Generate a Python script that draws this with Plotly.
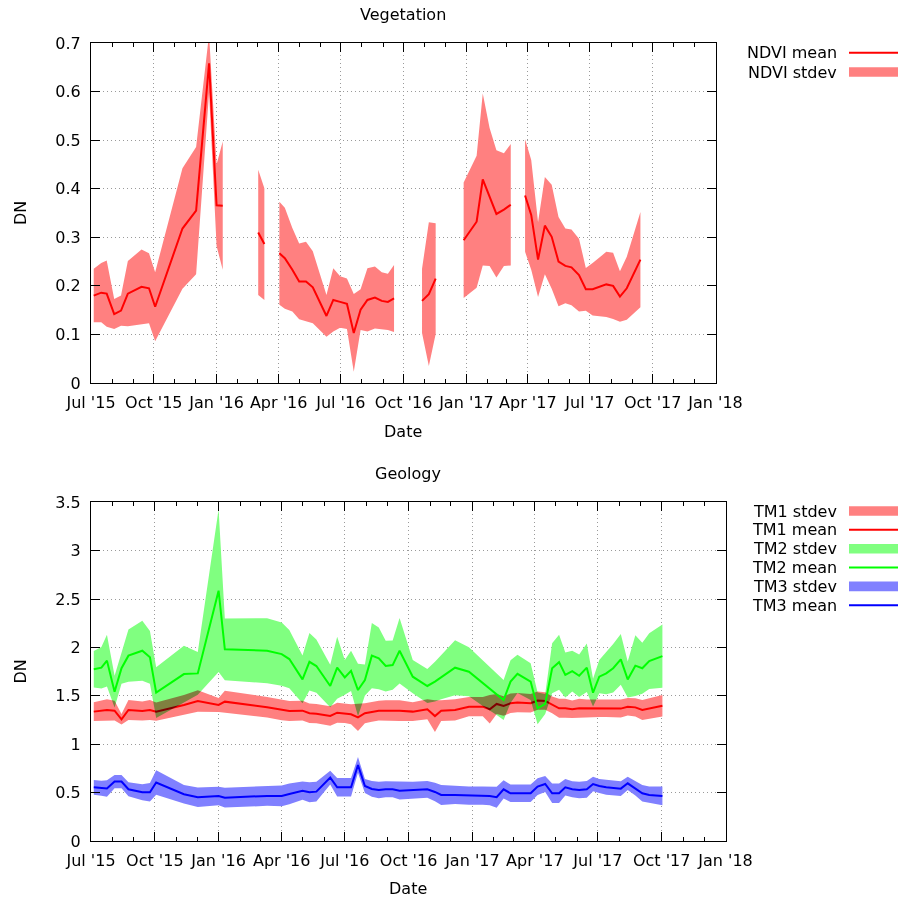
import plotly.graph_objects as go

# ---------------- Vegetation (NDVI) ----------------
# None rows = missing observations (gaps in the series)
ndvi_dates = [
    "2015-07-05", "2015-07-16", "2015-07-24", "2015-08-04", "2015-08-14", "2015-08-24",
    "2015-09-13", "2015-09-24", "2015-10-03", "2015-11-12", "2015-12-02", "2015-12-21",
    "2016-01-01", "2016-01-10", None,
    "2016-03-02", "2016-03-11", None,
    "2016-04-02", "2016-04-10", "2016-04-21", "2016-05-01", "2016-05-11", "2016-05-21",
    "2016-06-10", "2016-06-20", "2016-06-30", "2016-07-10", "2016-07-20", "2016-07-30",
    "2016-08-09", "2016-08-20", "2016-08-30", "2016-09-08", "2016-09-17", None,
    "2016-10-28", "2016-11-07", "2016-11-17", None,
    "2016-12-28", "2017-01-16", "2017-01-25", "2017-02-04", "2017-02-14", "2017-02-25",
    "2017-03-07", None,
    "2017-03-28", "2017-04-06", "2017-04-16", "2017-04-26", "2017-05-06", "2017-05-16",
    "2017-05-26", "2017-06-04", "2017-06-15", "2017-06-25", "2017-07-05", "2017-07-25",
    "2017-08-04", "2017-08-14", "2017-08-24", "2017-09-13",
]
ndvi_mean = [
    0.180, 0.186, 0.184, 0.142, 0.149, 0.184,
    0.198, 0.195, 0.157, 0.318, 0.355, 0.658,
    0.366, 0.365, None,
    0.310, 0.286, None,
    0.267, 0.257, 0.233, 0.209, 0.209, 0.197,
    0.138, 0.171, 0.167, 0.163, 0.103, 0.151,
    0.171, 0.176, 0.169, 0.167, 0.174, None,
    0.169, 0.183, 0.215, None,
    0.294, 0.332, 0.419, 0.383, 0.348, 0.357,
    0.367, None,
    0.386, 0.346, 0.254, 0.324, 0.301, 0.250,
    0.241, 0.238, 0.222, 0.193, 0.193, 0.203,
    0.200, 0.178, 0.195, 0.254,
]
ndvi_std = [
    0.055, 0.061, 0.068, 0.031, 0.031, 0.067,
    0.077, 0.072, 0.071, 0.124, 0.131, 0.060,
    0.084, 0.132, None,
    0.129, 0.115, None,
    0.106, 0.104, 0.086, 0.078, 0.082, 0.074,
    0.043, 0.065, 0.053, 0.052, 0.080, 0.042,
    0.065, 0.064, 0.059, 0.058, 0.069, None,
    0.066, 0.148, 0.114, None,
    0.119, 0.136, 0.177, 0.142, 0.131, 0.116,
    0.125, None,
    0.116, 0.113, 0.077, 0.100, 0.107, 0.092,
    0.077, 0.078, 0.075, 0.044, 0.054, 0.067,
    0.068, 0.052, 0.065, 0.098,
]

# ---------------- Geology (TM1, TM2, TM3) ----------------
geo_dates = [
    "2015-07-05", "2015-07-16", "2015-07-24", "2015-08-04", "2015-08-14", "2015-08-24",
    "2015-09-13", "2015-09-24", "2015-10-03", "2015-11-12", "2015-12-02", "2016-01-01",
    "2016-01-10", "2016-03-11", "2016-04-01", "2016-04-12", "2016-05-01", "2016-05-11",
    "2016-05-21", "2016-06-10", "2016-06-20", "2016-07-01", "2016-07-10", "2016-07-20",
    "2016-07-30", "2016-08-09", "2016-08-19", "2016-08-29", "2016-09-08", "2016-09-18",
    "2016-10-07", "2016-10-28", "2016-11-08", "2016-11-17", "2016-12-07", "2016-12-27",
    "2017-01-16", "2017-01-26", "2017-02-05", "2017-02-15", "2017-02-25", "2017-03-07",
    "2017-03-26", "2017-04-05", "2017-04-16", "2017-04-26", "2017-05-06", "2017-05-15",
    "2017-05-25", "2017-06-04", "2017-06-15", "2017-06-24", "2017-07-03", "2017-07-13",
    "2017-07-23", "2017-08-03", "2017-08-13", "2017-08-24", "2017-09-03", "2017-09-13",
    "2017-10-02",
]
tm1_mean = [
    1.337, 1.344, 1.354, 1.347, 1.258, 1.354, 1.344, 1.354, 1.337, 1.406, 1.447, 1.406,
    1.440, 1.382, 1.354, 1.344, 1.347, 1.320, 1.316, 1.292, 1.326, 1.320, 1.309, 1.278,
    1.320, 1.334, 1.347, 1.347, 1.347, 1.347, 1.337, 1.361, 1.291, 1.347, 1.354, 1.388,
    1.388, 1.361, 1.416, 1.395, 1.423, 1.430, 1.423, 1.451, 1.447, 1.407, 1.371, 1.371,
    1.361, 1.371, 1.371, 1.371, 1.371, 1.371, 1.371, 1.368, 1.388, 1.381, 1.354, 1.371,
    1.398,
]
tm1_std = [
    0.098, 0.107, 0.110, 0.103, 0.055, 0.103, 0.098, 0.103, 0.095, 0.103, 0.112, 0.072,
    0.112, 0.107, 0.107, 0.103, 0.102, 0.100, 0.100, 0.100, 0.103, 0.100, 0.103, 0.141,
    0.103, 0.103, 0.103, 0.107, 0.107, 0.107, 0.098, 0.103, 0.164, 0.107, 0.110, 0.100,
    0.100, 0.148, 0.103, 0.100, 0.100, 0.100, 0.096, 0.095, 0.090, 0.086, 0.098, 0.098,
    0.090, 0.098, 0.090, 0.093, 0.090, 0.090, 0.090, 0.093, 0.091, 0.095, 0.103, 0.103,
    0.112,
]
tm2_mean = [
    1.774, 1.791, 1.864, 1.543, 1.785, 1.915, 1.966, 1.898, 1.533, 1.725, 1.732, 2.587,
    1.981, 1.966, 1.931, 1.880, 1.670, 1.852, 1.808, 1.602, 1.791, 1.691, 1.758, 1.560,
    1.663, 1.915, 1.888, 1.808, 1.818, 1.966, 1.698, 1.602, 1.647, 1.694, 1.791, 1.749,
    1.629, 1.574, 1.515, 1.457, 1.647, 1.727, 1.647, 1.371, 1.416, 1.785, 1.848, 1.716,
    1.756, 1.708, 1.791, 1.533, 1.698, 1.732, 1.785, 1.877, 1.670, 1.812, 1.785, 1.860,
    1.911,
]
tm2_std = [
    0.189, 0.215, 0.267, 0.164, 0.160, 0.270, 0.310, 0.272, 0.262, 0.293, 0.220, 0.840,
    0.319, 0.337, 0.327, 0.301, 0.246, 0.298, 0.275, 0.220, 0.320, 0.179, 0.207, 0.272,
    0.160, 0.337, 0.319, 0.262, 0.255, 0.339, 0.172, 0.176, 0.205, 0.229, 0.284, 0.253,
    0.234, 0.227, 0.213, 0.207, 0.220, 0.198, 0.189, 0.164, 0.103, 0.258, 0.284, 0.232,
    0.210, 0.220, 0.250, 0.143, 0.172, 0.215, 0.250, 0.262, 0.186, 0.313, 0.263, 0.288,
    0.327,
]
tm3_mean = [
    0.555, 0.545, 0.542, 0.614, 0.614, 0.535, 0.504, 0.504, 0.604, 0.483, 0.452, 0.465,
    0.448, 0.466, 0.466, 0.486, 0.520, 0.504, 0.510, 0.655, 0.555, 0.555, 0.555, 0.786,
    0.569, 0.538, 0.527, 0.534, 0.534, 0.520, 0.527, 0.534, 0.507, 0.476, 0.476, 0.469,
    0.469, 0.465, 0.452, 0.534, 0.493, 0.493, 0.493, 0.562, 0.589, 0.493, 0.493, 0.555,
    0.534, 0.527, 0.534, 0.589, 0.569, 0.555, 0.548, 0.541, 0.596, 0.544, 0.493, 0.476,
    0.466,
]
tm3_std = [
    0.076, 0.077, 0.086, 0.069, 0.069, 0.072, 0.083, 0.095, 0.126, 0.095, 0.100, 0.095,
    0.103, 0.103, 0.108, 0.107, 0.095, 0.103, 0.103, 0.072, 0.095, 0.095, 0.095, 0.081,
    0.072, 0.081, 0.086, 0.083, 0.083, 0.091, 0.086, 0.086, 0.095, 0.103, 0.093, 0.095,
    0.095, 0.095, 0.108, 0.095, 0.091, 0.091, 0.091, 0.086, 0.083, 0.100, 0.100, 0.086,
    0.083, 0.086, 0.086, 0.074, 0.072, 0.077, 0.079, 0.077, 0.069, 0.074, 0.086, 0.086,
    0.096,
]

FONT = "DejaVu Sans"
RED, GREEN, BLUE = "rgb(255,0,0)", "rgb(0,255,0)", "rgb(0,0,255)"
RED_F, GREEN_F, BLUE_F = "rgb(255,128,128)", "rgb(128,255,128)", "rgb(128,128,255)"


def band_polygons(xs, mean, std):
    """Closed mean±std polygons, one per unbroken segment, separated by None."""
    px, py = [], []
    seg = []

    def flush():
        if not seg:
            return
        px.extend([p[0] for p in seg] + [p[0] for p in reversed(seg)] + [None])
        py.extend([p[1] + p[2] for p in seg] + [p[1] - p[2] for p in reversed(seg)] + [None])
        seg.clear()

    for x, m, s in zip(xs, mean, std):
        if x is None or m is None:
            flush()
        else:
            seg.append((x, m, s))
    flush()
    return px, py


fig = go.Figure()


def add_band(xs, m, s, color, xa, ya):
    bx, by = band_polygons(xs, m, s)
    fig.add_trace(go.Scatter(x=bx, y=by, mode="lines", fill="toself", fillcolor=color,
                             line=dict(width=0, color=color), showlegend=False,
                             hoverinfo="skip", xaxis=xa, yaxis=ya))


def add_line(xs, m, color, xa, ya):
    fig.add_trace(go.Scatter(x=xs, y=m, mode="lines", line=dict(color=color, width=2),
                             showlegend=False, xaxis=xa, yaxis=ya))


# top panel
add_band(ndvi_dates, ndvi_mean, ndvi_std, RED_F, "x", "y")
add_line(ndvi_dates, ndvi_mean, RED, "x", "y")

# bottom panel
add_band(geo_dates, tm1_mean, tm1_std, RED_F, "x2", "y2")
add_line(geo_dates, tm1_mean, RED, "x2", "y2")
add_band(geo_dates, tm2_mean, tm2_std, GREEN_F, "x2", "y2")
add_line(geo_dates, tm2_mean, GREEN, "x2", "y2")
add_band(geo_dates, tm3_mean, tm3_std, BLUE_F, "x2", "y2")
add_line(geo_dates, tm3_mean, BLUE, "x2", "y2")

W, H = 902, 901


def px_x(p):
    return p / W


def px_y(p):
    return 1 - p / H


GRID = dict(showgrid=True, gridcolor="#9a9a9a", gridwidth=1, griddash="1px,3px")
AX = dict(showline=True, linecolor="black", linewidth=1, mirror="allticks",
          ticks="inside", ticklen=9, tickcolor="black", zeroline=False, automargin=False,
          tickfont=dict(family=FONT, size=16, color="black"), **GRID)

xcommon = dict(type="date", range=["2015-07-01", "2018-01-01"], dtick="M3",
               tick0="2015-07-01", tickformat="%b '%y", ticklabelstandoff=5, tickangle=0,
               minor=dict(ticks="inside", ticklen=4, dtick="M1", tick0="2015-07-01",
                          tickcolor="black", showgrid=False),
               **AX)

fig.update_layout(
    width=W, height=H,
    margin=dict(l=0, r=0, t=0, b=0, autoexpand=False),
    paper_bgcolor="white", plot_bgcolor="white",
    font=dict(family=FONT, size=16, color="black"),
    showlegend=False,
    xaxis=dict(domain=[px_x(91), px_x(715.5)], anchor="y", **xcommon),
    yaxis=dict(domain=[px_y(383), px_y(43)], anchor="x", range=[0, 0.7], dtick=0.1,
               ticklabelstandoff=6, **AX),
    xaxis2=dict(domain=[px_x(91), px_x(725.5)], anchor="y2", **xcommon),
    yaxis2=dict(domain=[px_y(841), px_y(502.3)], anchor="x2", range=[0, 3.5], dtick=0.5,
                ticklabelstandoff=6, **AX),
)

annotations = []
shapes = []


def text(x, y, s, xanchor="center", angle=0):
    annotations.append(dict(x=px_x(x), y=px_y(y), xref="paper", yref="paper", text=s,
                            showarrow=False, xanchor=xanchor, yanchor="middle",
                            textangle=angle, font=dict(family=FONT, size=16, color="black")))


# titles & axis titles
text(403, 15, "Vegetation")
text(403, 431, "Date")
text(20, 213, "DN", angle=-90)
text(408, 474, "Geology")
text(408, 888, "Date")
text(20, 671.5, "DN", angle=-90)

# legends (text on the left, key on the right, as in the original)
legend_top = [("NDVI mean", "line", RED, 52.7), ("NDVI stdev", "box", RED_F, 72)]
legend_bottom = [
    ("TM1 stdev", "box", RED_F, 511), ("TM1 mean", "line", RED, 529.8),
    ("TM2 stdev", "box", GREEN_F, 548.7), ("TM2 mean", "line", GREEN, 567.5),
    ("TM3 stdev", "box", BLUE_F, 586.4), ("TM3 mean", "line", BLUE, 605.2),
]
for label, kind, color, yc in legend_top + legend_bottom:
    text(839, yc, label, xanchor="right")
    if kind == "line":
        shapes.append(dict(type="line", xref="paper", yref="paper", x0=px_x(849), x1=px_x(898),
                           y0=px_y(yc), y1=px_y(yc), line=dict(color=color, width=2)))
    else:
        shapes.append(dict(type="rect", xref="paper", yref="paper", x0=px_x(849), x1=px_x(898),
                           y0=px_y(yc - 4.8), y1=px_y(yc + 4.8), fillcolor=color,
                           line=dict(width=0)))

fig.update_layout(annotations=annotations, shapes=shapes)

post = ("document.body.style.margin='0';document.body.style.overflow='hidden';"
        "document.querySelectorAll('path.js-fill').forEach(function(p){"
        "p.style.mixBlendMode='multiply';});")
fig.write_html("out.html", config={"displayModeBar": False}, post_script=post)
